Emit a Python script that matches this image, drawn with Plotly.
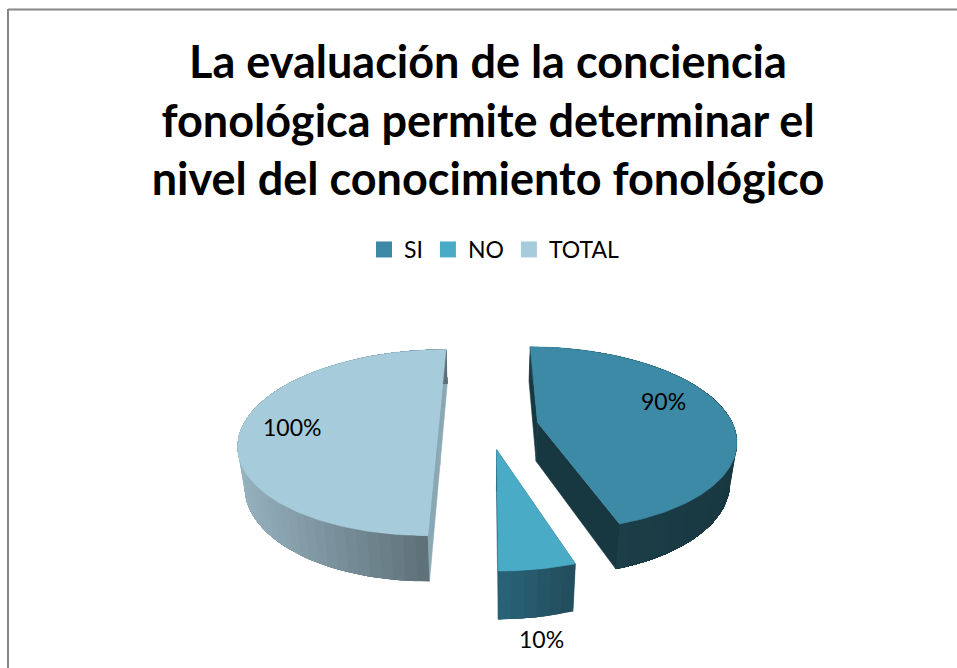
import math
import plotly.graph_objects as go

# ---------- data ----------
categories = ["SI", "NO", "TOTAL"]
values = [90, 10, 100]
value_labels = ["90%", "10%", "100%"]
title_lines = [
    "La evaluación de la conciencia",
    "fonológica permite determinar el",
    "nivel del conocimiento fonológico",
]

# ---------- style ----------
top_colors = ["#3C8AA5", "#4AABC6", "#A6CBDB"]
wall_left = ["#1B3E48", "#2A6478", "#96B2BF"]
wall_right = ["#183841", "#224C5B", "#5D7078"]
cut_colors = ["#183841", "#2A6478", "#8AA8B3"]
label_pos = [(663, 401), (541, 639), (292, 427)]

# ---------- projection of the tilted, exploded pie ----------
CX, CY = 488.5, 426.0
RADIUS, TILT, PERSP = 196.0, 0.46, 0.177
EXPLODE = 0.255
BOTTOM_XS, BOTTOM_YS, BOTTOM_DROP = 0.972, 1.063, 39.0


def project(u, v, bottom=False):
    s = 1.0 / (1.0 - PERSP * v)
    x, y = RADIUS * u * s, RADIUS * TILT * v * s
    if bottom:
        x, y = x * BOTTOM_XS, y * BOTTOM_YS + BOTTOM_DROP
    return CX + x, CY + y


def rim(deg, off, bottom=False):
    a = math.radians(deg)
    return project(off[0] + math.sin(a), off[1] - math.cos(a), bottom)


def mix(c1, c2, t):
    a = [int(c1[i:i + 2], 16) for i in (1, 3, 5)]
    b = [int(c2[i:i + 2], 16) for i in (1, 3, 5)]
    return "rgb(%d,%d,%d)" % tuple(round(p + (q - p) * t) for p, q in zip(a, b))


fig = go.Figure()


def poly(points, color, edge=0.6):
    fig.add_trace(go.Scatter(
        x=[p[0] for p in points] + [points[0][0]],
        y=[p[1] for p in points] + [points[0][1]],
        mode="lines", fill="toself", fillcolor=color,
        line=dict(color=color, width=edge),
        showlegend=False, hoverinfo="skip",
    ))


total = sum(values)
start = 0.0
for i, val in enumerate(values):
    sweep = val / total * 360.0
    end = start + sweep
    mid = math.radians((start + end) / 2)
    off = (EXPLODE * math.sin(mid), -EXPLODE * math.cos(mid))

    # cut faces
    for d in (start, end):
        poly([project(*off), rim(d, off), rim(d, off, True), project(*off, True)], cut_colors[i])

    # curved outer wall with a shade along x: every band overlaps the one before it
    n = max(6, int(sweep / 3))
    degs = [start + sweep * k / n for k in range(n + 1)]
    xs = [rim(d, off)[0] for d in degs if 90 <= d % 360 <= 270] or [rim(d, off)[0] for d in degs]
    xmin, xmax = min(xs), max(xs)
    for j in range(n):
        xm = rim((degs[j] + degs[j + 1]) / 2, off)[0]
        t = max(0.0, min(1.0, (xm - xmin) / max(xmax - xmin, 1)))
        tail = degs[j:]
        poly([rim(d, off) for d in tail] + [rim(d, off, True) for d in reversed(tail)],
             mix(wall_left[i], wall_right[i], t), edge=0)

    # top face
    steps = max(2, int(sweep))
    arc = [rim(start + sweep * k / steps, off) for k in range(steps + 1)]
    poly([project(*off)] + arc, top_colors[i])
    start = end

# legend entries
for name, color in zip(categories, top_colors):
    fig.add_trace(go.Scatter(
        x=[None], y=[None], mode="markers", name=name,
        marker=dict(symbol="square", size=16, color=color),
    ))

# data labels
for text, (lx, ly) in zip(value_labels, label_pos):
    fig.add_annotation(x=lx, y=ly, text=text, showarrow=False,
                       font=dict(family="Lato", size=23, color="#000000"))

fig.update_layout(
    width=957, height=668,
    margin=dict(l=0, r=0, t=0, b=0),
    paper_bgcolor="white", plot_bgcolor="white",
    font=dict(family="Lato", color="#000000"),
    title=dict(
        text="<br>".join(title_lines),
        font=dict(family="Lato", size=45, color="#000000", weight="bold"),
        x=488 / 957, xanchor="center", y=1 - 78 / 668, yanchor="top",
    ),
    xaxis=dict(range=[0, 957], visible=False, fixedrange=True),
    yaxis=dict(range=[668, 0], visible=False, fixedrange=True),
    legend=dict(
        orientation="h", x=364 / 957, xanchor="left", y=1 - 228 / 668, yanchor="top",
        font=dict(family="Lato", size=23, color="#000000"),
        bgcolor="rgba(0,0,0,0)", itemclick=False, itemdoubleclick=False,
    ),
    shapes=[
        dict(type="line", xref="x", yref="y", x0=8, x1=957, y0=9.5, y1=9.5,
             line=dict(color="#868686", width=2)),
        dict(type="line", xref="x", yref="y", x0=8, x1=8, y0=9, y1=668,
             line=dict(color="#868686", width=2)),
    ],
)

fig.write_html("out.html", config={"displayModeBar": False},
               post_script="document.body.style.margin='0';")
